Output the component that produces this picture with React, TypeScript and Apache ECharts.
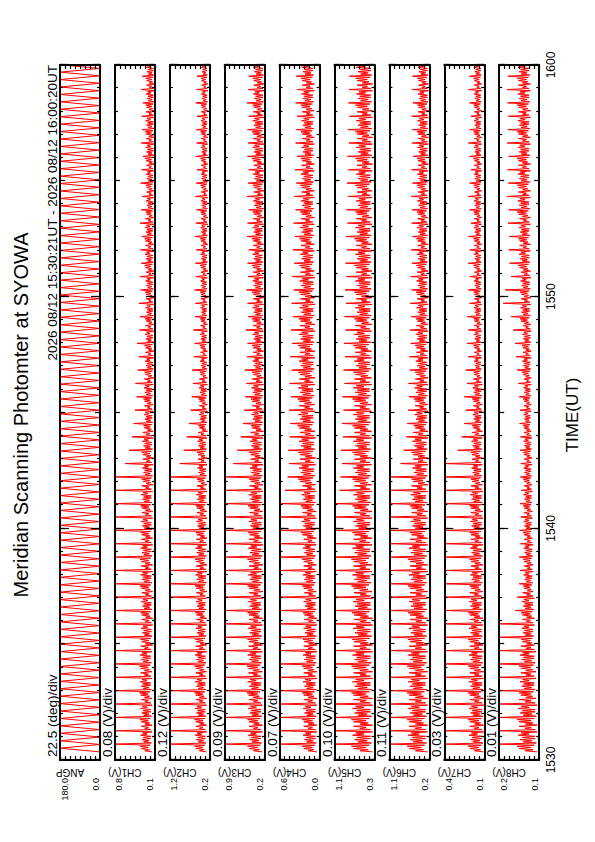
import React, { useEffect, useRef } from "react";
import * as echarts from "echarts";

const TITLE = "Meridian Scanning Photomter at SYOWA";
const PERIOD_TEXT = "2026 08/12 15:30:21UT - 2026 08/12 16:00:20UT";
const TIME_AXIS_TITLE = "TIME(UT)";
const TIME_TICKS = ["1530", "1540", "1550", "1600"];
const PANEL_NAMES = ["ANGP", "CH1(V)", "CH2(V)", "CH3(V)", "CH4(V)", "CH5(V)", "CH6(V)", "CH7(V)", "CH8(V)"];
const DIV_TEXT = ["22.5 (deg)/div", "0.08 (V)/div", "0.12 (V)/div", "0.09 (V)/div", "0.07 (V)/div", "0.10 (V)/div", "0.11 (V)/div", "0.03 (V)/div", "0.01 (V)/div"];
const AXIS_MAX_TEXT = ["180.0", "0.8", "1.2", "0.9", "0.6", "1.1", "1.1", "0.4", "0.2"];
const AXIS_MIN_TEXT = ["0.0", "0.1", "0.2", "0.2", "0.0", "0.3", "0.2", "0.1", "0.1"];
const AXIS_LO = [0, 0.1, 0.2, 0.2, 0.0, 0.3, 0.2, 0.1, 0.1];
const AXIS_HI = [180, 0.8, 1.2, 0.9, 0.6, 1.1, 1.1, 0.4, 0.2];

// seconds after 15:30:00
const START_SEC = 21;
const END_SEC = 1820;

// scanning angle turning points (deg)
const ANGP_DEG = [
  0, 180, 1, 179, 0, 180, 2, 180, 0, 178, 1, 180, 0, 180, 1, 179, 0, 180, 2, 180,
  0, 179, 1, 180, 0, 180, 0, 178, 2, 180, 0, 180, 1, 179, 0, 180, 1, 180, 0, 179,
  1, 180, 0, 180, 2, 179, 0, 180, 1, 180, 0, 178, 1, 180, 0, 180, 2, 179, 0, 180,
  0, 180, 1, 179, 0, 180, 1, 180, 0, 179, 2, 180, 0, 180, 1, 178, 0, 180, 1, 180,
  2, 179, 0, 180, 1, 180, 0, 180, 1, 179, 0, 180, 2, 180, 0, 178, 1, 180, 0, 180,
  0, 180, 1, 180, 0, 179, 2, 180, 0, 180, 1, 179, 0, 180, 0, 178, 1, 180, 2, 180,
  1, 179, 0, 180, 0, 180, 2, 178, 0, 180, 1, 180, 0, 179, 1, 180, 0, 180, 2, 179,
  0, 180, 1, 178, 0, 180, 1, 180, 2, 179, 0, 180, 0, 180, 1, 179, 0, 180, 1, 180,
  0, 179, 2, 180, 0, 180, 1, 180, 0, 178, 1, 180, 0, 180, 2, 179, 0, 180, 1, 180,
  0, 180, 1, 179, 0, 180, 2, 180,
];

// shape of one photometer scan: fraction between base and band level, -1 = spike peak
const SCAN_PROFILE_A = [0, 0.6, 0.2, 0.9, 0.3, 1.0, 0.15, -1, 0.05, 0.7, 0.25, 0.85];
const SCAN_PROFILE_B = [0.1, 0.75, 0.1, 0.95, 0.4, 0.8, 0.0, -1, 0.1, 0.6, 0.3, 0.9];

const CH1_PEAK = [
  0.8, 0.8, 0.8, 0.8, 0.8, 0.8, 0.8, 0.8, 0.8, 0.8, 0.8, 0.8, 0.8, 0.8, 0.8, 0.8, 0.8, 0.8, 0.8, 0.8, 0.8,
  0.62, 0.55, 0.5, 0.47, 0.45, 0.42, 0.44, 0.4, 0.38, 0.41, 0.37, 0.36, 0.38, 0.35, 0.36, 0.34, 0.35, 0.33, 0.36, 0.34,
  0.32, 0.35, 0.33, 0.31, 0.34, 0.32, 0.33, 0.31, 0.34, 0.32, 0.33,
];
const CH1_BAND = [0.36, 0.37, 0.35, 0.36, 0.35, 0.33, 0.3, 0.28, 0.27, 0.28, 0.26, 0.27, 0.26];
const CH1_BASE = [0.15, 0.15, 0.14, 0.14, 0.14, 0.13, 0.13, 0.12, 0.12, 0.12, 0.12, 0.11, 0.11];

const CH2_PEAK = [
  1.2, 1.2, 1.2, 1.2, 1.2, 1.2, 1.2, 1.2, 1.2, 1.2, 1.2, 1.2, 1.2, 1.2, 1.2, 1.2, 1.2, 1.2, 1.2, 1.2, 1.2,
  0.95, 0.85, 0.78, 0.72, 0.68, 0.65, 0.62, 0.64, 0.6, 0.58, 0.61, 0.57, 0.56, 0.58, 0.55, 0.56, 0.54, 0.57, 0.55, 0.53,
  0.56, 0.54, 0.52, 0.55, 0.53, 0.54, 0.52, 0.55, 0.53, 0.52, 0.54,
];
const CH2_BAND = [0.58, 0.58, 0.56, 0.57, 0.55, 0.52, 0.48, 0.45, 0.44, 0.44, 0.43, 0.43, 0.42];
const CH2_BASE = [0.28, 0.28, 0.28, 0.27, 0.27, 0.27, 0.26, 0.26, 0.26, 0.25, 0.25, 0.25, 0.25];

const CH3_PEAK = [
  0.9, 0.9, 0.9, 0.9, 0.9, 0.9, 0.9, 0.9, 0.9, 0.9, 0.9, 0.9, 0.9, 0.9, 0.9, 0.9, 0.9, 0.9, 0.9, 0.9, 0.9,
  0.75, 0.68, 0.62, 0.58, 0.56, 0.54, 0.52, 0.55, 0.51, 0.5, 0.53, 0.49, 0.5, 0.52, 0.49, 0.5, 0.48, 0.51, 0.5, 0.48,
  0.51, 0.49, 0.48, 0.5, 0.49, 0.5, 0.48, 0.51, 0.49, 0.48, 0.5,
];
const CH3_BAND = [0.5, 0.51, 0.5, 0.5, 0.49, 0.47, 0.44, 0.42, 0.42, 0.42, 0.41, 0.42, 0.41];
const CH3_BASE = [0.24, 0.24, 0.24, 0.23, 0.23, 0.23, 0.22, 0.22, 0.22, 0.22, 0.21, 0.21, 0.21];

const CH4_PEAK = [
  0.6, 0.6, 0.6, 0.6, 0.6, 0.6, 0.6, 0.6, 0.6, 0.6, 0.6, 0.6, 0.6, 0.6, 0.6, 0.6, 0.6, 0.6, 0.6,
  0.52, 0.48, 0.46, 0.47, 0.45, 0.44, 0.46, 0.43, 0.45, 0.42, 0.44, 0.41, 0.43, 0.4, 0.42, 0.39, 0.41, 0.38, 0.4, 0.37,
  0.39, 0.36, 0.38, 0.35, 0.37, 0.34, 0.36, 0.35, 0.34, 0.36, 0.34, 0.35, 0.34,
];
const CH4_BAND = [0.26, 0.26, 0.25, 0.26, 0.28, 0.32, 0.33, 0.32, 0.31, 0.3, 0.29, 0.28, 0.28];
const CH4_BASE = [0.04, 0.04, 0.04, 0.05, 0.05, 0.06, 0.07, 0.07, 0.07, 0.08, 0.08, 0.08, 0.08];

const CH5_PEAK = [
  1.1, 1.1, 1.1, 1.1, 1.1, 1.1, 1.1, 1.1, 1.1, 1.1, 1.1, 1.1, 1.1, 1.1, 1.1, 1.1, 1.1, 1.1, 1.1,
  1.0, 0.98, 0.95, 0.97, 0.93, 0.95, 0.92, 0.94, 0.9, 0.92, 0.89, 0.91, 0.88, 0.9, 0.87, 0.89, 0.86, 0.88, 0.85, 0.87,
  0.84, 0.86, 0.83, 0.85, 0.82, 0.84, 0.81, 0.83, 0.8, 0.82, 0.81, 0.8, 0.82,
];
const CH5_BAND = [0.76, 0.76, 0.75, 0.76, 0.74, 0.74, 0.74, 0.72, 0.7, 0.7, 0.68, 0.68, 0.68];
const CH5_BASE = [0.34, 0.34, 0.34, 0.35, 0.35, 0.36, 0.36, 0.36, 0.35, 0.35, 0.35, 0.34, 0.34];

const CH6_PEAK = [
  1.1, 1.1, 1.1, 1.1, 1.1, 1.1, 1.1, 1.1, 1.1, 1.1, 1.1, 1.1, 1.1, 1.1, 1.1, 1.1, 1.1, 1.1, 1.1, 1.1, 1.1,
  0.85, 0.78, 0.72, 0.7, 0.68, 0.66, 0.67, 0.64, 0.65, 0.62, 0.64, 0.61, 0.63, 0.6, 0.62, 0.59, 0.61, 0.58, 0.6, 0.59,
  0.61, 0.58, 0.6, 0.57, 0.59, 0.58, 0.6, 0.57, 0.59, 0.58, 0.57,
];
const CH6_BAND = [0.7, 0.7, 0.68, 0.68, 0.64, 0.6, 0.55, 0.52, 0.5, 0.49, 0.48, 0.48, 0.47];
const CH6_BASE = [0.24, 0.24, 0.24, 0.24, 0.24, 0.23, 0.23, 0.23, 0.23, 0.23, 0.23, 0.22, 0.22];

const CH7_PEAK = [
  0.4, 0.4, 0.4, 0.4, 0.4, 0.4, 0.4, 0.4, 0.4, 0.4, 0.4, 0.4, 0.4, 0.4, 0.4, 0.4, 0.4, 0.4, 0.4, 0.4, 0.4, 0.4,
  0.3, 0.27, 0.25, 0.24, 0.25, 0.23, 0.24, 0.22, 0.23, 0.22, 0.23, 0.21, 0.22, 0.21, 0.22, 0.21, 0.22, 0.2, 0.21, 0.22,
  0.21, 0.2, 0.21, 0.22, 0.21, 0.2, 0.21, 0.22, 0.21, 0.2,
];
const CH7_BAND = [0.22, 0.22, 0.22, 0.21, 0.21, 0.2, 0.19, 0.18, 0.18, 0.18, 0.18, 0.18, 0.18];
const CH7_BASE = [0.105, 0.105, 0.11, 0.11, 0.11, 0.115, 0.115, 0.12, 0.12, 0.12, 0.12, 0.12, 0.12];

const CH8_PEAK = [
  0.2, 0.2, 0.2, 0.2, 0.2, 0.2, 0.2, 0.2, 0.2, 0.2,
  0.16, 0.155, 0.15, 0.148, 0.15, 0.147, 0.149, 0.146, 0.148, 0.145, 0.147, 0.146, 0.148, 0.147, 0.149, 0.148,
  0.15, 0.152, 0.155, 0.158, 0.16, 0.165, 0.17, 0.19, 0.185, 0.17, 0.174, 0.176, 0.175, 0.178, 0.176, 0.18,
  0.177, 0.179, 0.176, 0.18, 0.178, 0.177, 0.179, 0.18, 0.178, 0.176,
];
const CH8_BAND = [0.155, 0.15, 0.145, 0.14, 0.14, 0.14, 0.14, 0.143, 0.148, 0.152, 0.155, 0.155, 0.155];
const CH8_BASE = [0.105, 0.108, 0.112, 0.115, 0.117, 0.118, 0.12, 0.12, 0.121, 0.122, 0.122, 0.122, 0.122];

const CHANNELS = [
  { peak: CH1_PEAK, band: CH1_BAND, base: CH1_BASE },
  { peak: CH2_PEAK, band: CH2_BAND, base: CH2_BASE },
  { peak: CH3_PEAK, band: CH3_BAND, base: CH3_BASE },
  { peak: CH4_PEAK, band: CH4_BAND, base: CH4_BASE },
  { peak: CH5_PEAK, band: CH5_BAND, base: CH5_BASE },
  { peak: CH6_PEAK, band: CH6_BAND, base: CH6_BASE },
  { peak: CH7_PEAK, band: CH7_BAND, base: CH7_BASE },
  { peak: CH8_PEAK, band: CH8_BAND, base: CH8_BASE },
];

const FONT = '"Liberation Sans", Arial, Helvetica, sans-serif';
const NARROW_FONT = '"Liberation Sans Narrow", "Arial Narrow", "Liberation Sans", sans-serif';
const RED = "#ff0000";
const GRID_LEFT = 82;
const GRID_WIDTH = 695;
const GRID_TOP0 = 60;
const GRID_PITCH = 54.9;
const GRID_HEIGHT = 40;
const DIVS = 8;

function toDiv(v: number, i: number) {
  return ((v - AXIS_LO[i]) / (AXIS_HI[i] - AXIS_LO[i])) * DIVS;
}

function angpData() {
  const n = ANGP_DEG.length;
  const step = (END_SEC - START_SEC) / (n - 1);
  return ANGP_DEG.map((v, k) => [START_SEC + k * step, toDiv(v, 0)]);
}

function channelData(ci: number) {
  const ch = CHANNELS[ci];
  const n = ch.peak.length;
  const period = (END_SEC - START_SEC) / n;
  const out: number[][] = [];
  for (let k = 0; k < n; k++) {
    const b = Math.min(ch.band.length - 1, Math.floor((k * ch.band.length) / n));
    const base = ch.base[b];
    const band = ch.band[b];
    const prof = k % 2 === 0 ? SCAN_PROFILE_A : SCAN_PROFILE_B;
    prof.forEach((f, j) => {
      const t = START_SEC + (k + j / prof.length) * period;
      const v = f < 0 ? ch.peak[k] : base + f * (band - base);
      out.push([t, toDiv(v, ci + 1)]);
    });
  }
  out.push([END_SEC, toDiv(ch.base[ch.base.length - 1], ci + 1)]);
  return out;
}

function timeLabel(v: number) {
  const idx = Math.round(v / 600);
  return Math.abs(v - idx * 600) < 1 ? TIME_TICKS[idx] : "";
}

function buildOption() {
  const grid: any[] = [];
  const xAxis: any[] = [];
  const yAxis: any[] = [];
  const series: any[] = [];
  const graphic: any[] = [];
  const border = { show: true, onZero: false, lineStyle: { color: "#000", width: 2 } };
  const noLine = { show: false, onZero: false };

  for (let i = 0; i < 9; i++) {
    const top = GRID_TOP0 + i * GRID_PITCH;
    grid.push({ left: GRID_LEFT, top, width: GRID_WIDTH, height: GRID_HEIGHT, containLabel: false, outerBoundsMode: "none" });
    const last = i === 8;
    const xBase = xAxis.length;
    for (const pos of ["bottom", "top"]) {
      xAxis.push({
        type: "value", gridIndex: i, position: pos, min: 0, max: 1800, interval: 300, z: 5,
        axisLine: border,
        axisTick: { show: true, inside: true, length: 5, lineStyle: { color: "#000", width: 1.2 } },
        minorTick: { show: true, splitNumber: 5, length: 3, lineStyle: { color: "#000", width: 1.2 } },
        axisLabel: { show: false }, splitLine: { show: false }, minorSplitLine: { show: false },
      });
      xAxis.push({
        type: "value", gridIndex: i, position: pos, min: 0, max: 1800, interval: 600, z: 5,
        axisLine: noLine,
        axisTick: { show: true, inside: true, length: 9, lineStyle: { color: "#000", width: 1.2 } },
        axisLabel: {
          show: last && pos === "bottom", formatter: timeLabel, margin: 6,
          fontSize: 12, fontFamily: FONT, color: "#000",
        },
        splitLine: { show: false },
      });
    }
    const yBase = yAxis.length;
    yAxis.push({
      type: "value", gridIndex: i, position: "left", min: 0, max: DIVS, interval: 1, z: 5,
      axisLine: border,
      axisTick: { show: true, inside: true, length: 4, lineStyle: { color: "#000", width: 1.2 } },
      axisLabel: {
        formatter: (v: number) => (Math.abs(v - DIVS) < 1e-6 ? AXIS_MAX_TEXT[i] : ""),
        verticalAlign: "top", margin: 18, fontSize: 9, fontFamily: FONT, color: "#000",
      },
      splitLine: { show: false },
    });
    yAxis.push({
      type: "value", gridIndex: i, position: "left", min: 0, max: DIVS, interval: 1, z: 5,
      axisLine: noLine, axisTick: { show: false },
      axisLabel: {
        formatter: (v: number) => (Math.abs(v) < 1e-6 ? AXIS_MIN_TEXT[i] : ""),
        verticalAlign: "bottom", margin: 18, fontSize: 9, fontFamily: FONT, color: "#000",
      },
      splitLine: { show: false },
    });
    yAxis.push({
      type: "value", gridIndex: i, position: "right", min: 0, max: DIVS, interval: 1, z: 5,
      axisLine: border,
      axisTick: { show: true, inside: true, length: 4, lineStyle: { color: "#000", width: 1.2 } },
      axisLabel: { show: false }, splitLine: { show: false },
    });

    series.push({
      type: "line", name: PANEL_NAMES[i], xAxisIndex: xBase, yAxisIndex: yBase,
      data: i === 0 ? angpData() : channelData(i - 1),
      showSymbol: false, symbol: "none", silent: true, z: 2,
      lineStyle: { color: RED, width: 1 },
    });

    graphic.push({
      type: "text", x: 85, y: top - 7.5,
      style: { text: DIV_TEXT[i], fill: "#000", fontSize: 13.5, fontFamily: FONT, align: "left", verticalAlign: "middle" },
    });
    graphic.push({
      type: "text", x: 69.5, y: top + 10, rotation: Math.PI / 2,
      style: { text: PANEL_NAMES[i], fill: "#000", fontSize: 10, fontFamily: NARROW_FONT, align: "center", verticalAlign: "middle" },
    });
  }

  graphic.push({
    type: "text", x: 427, y: 21,
    style: { text: TITLE, fill: "#000", fontSize: 20, fontFamily: FONT, align: "center", verticalAlign: "middle" },
  });
  graphic.push({
    type: "text", x: 777, y: 52.5,
    style: { text: PERIOD_TEXT, fill: "#000", fontSize: 13.5, fontFamily: FONT, align: "right", verticalAlign: "middle" },
  });
  graphic.push({
    type: "text", x: 427, y: 572.5,
    style: { text: TIME_AXIS_TITLE, fill: "#000", fontSize: 17, fontFamily: FONT, align: "center", verticalAlign: "middle" },
  });

  return {
    animation: false,
    backgroundColor: "#fff",
    grid, xAxis, yAxis, series, graphic,
  };
}

export default function App() {
  const ref = useRef<HTMLDivElement>(null);
  useEffect(() => {
    if (!ref.current) return;
    const chart = echarts.init(ref.current, null, { renderer: "svg" });
    chart.setOption(buildOption() as any);
    return () => chart.dispose();
  }, []);
  return (
    <div
      ref={ref}
      style={{
        position: "absolute", left: 0, top: 0, width: 842, height: 595,
        transformOrigin: "0 0", transform: "rotate(-90deg) translateX(-842px)",
        background: "#fff",
      }}
    />
  );
}
